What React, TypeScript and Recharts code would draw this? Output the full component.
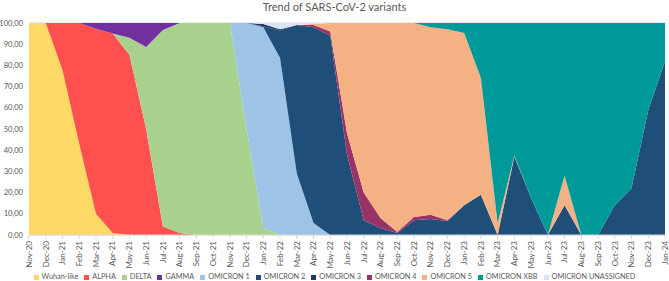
import { AreaChart, Area, XAxis, YAxis, CartesianGrid, Legend } from 'recharts';

const MONTHS = [
  'Nov-20', 'Dec-20', 'Jan-21', 'Feb-21', 'Mar-21', 'Apr-21', 'May-21', 'Jun-21', 'Jul-21', 'Aug-21',
  'Sep-21', 'Oct-21', 'Nov-21', 'Dec-21', 'Jan-22', 'Feb-22', 'Mar-22', 'Apr-22', 'May-22', 'Jun-22',
  'Jul-22', 'Aug-22', 'Sep-22', 'Oct-22', 'Nov-22', 'Dec-22', 'Jan-23', 'Feb-23', 'Mar-23', 'Apr-23',
  'May-23', 'Jun-23', 'Jul-23', 'Aug-23', 'Sep-23', 'Oct-23', 'Nov-23', 'Dec-23', 'Jan-24',
];

// shares in %, one value per month
const WUHAN = [100, 100, 77.8, 43, 10, 1, 0, 0, 0, 0, 0, 0, 0, 0, 0, 0, 0, 0, 0, 0, 0, 0, 0, 0, 0, 0, 0, 0, 0, 0, 0, 0, 0, 0, 0, 0, 0, 0, 0];
const ALPHA = [0, 0, 22.2, 57, 87.3, 94, 85, 50, 4, 1, 0, 0, 0, 0, 0, 0, 0, 0, 0, 0, 0, 0, 0, 0, 0, 0, 0, 0, 0, 0, 0, 0, 0, 0, 0, 0, 0, 0, 0];
const DELTA = [0, 0, 0, 0, 0, 0, 8, 38.7, 92.7, 99, 100, 100, 100, 50, 3.3, 0, 0, 0, 0, 0, 0, 0, 0, 0, 0, 0, 0, 0, 0, 0, 0, 0, 0, 0, 0, 0, 0, 0, 0];
const GAMMA = [0, 0, 0, 0, 2.7, 5, 7, 11.3, 3.3, 0, 0, 0, 0, 0, 0, 0, 0, 0, 0, 0, 0, 0, 0, 0, 0, 0, 0, 0, 0, 0, 0, 0, 0, 0, 0, 0, 0, 0, 0];
const OMICRON1 = [0, 0, 0, 0, 0, 0, 0, 0, 0, 0, 0, 0, 0, 50, 95.2, 83.5, 29, 5.7, 0, 0, 0, 0, 0, 0, 0, 0, 0, 0, 0, 0, 0, 0, 0, 0, 0, 0, 0, 0, 0];
const OMICRON2 = [0, 0, 0, 0, 0, 0, 0, 0, 0, 0, 0, 0, 0, 0, 0.5, 13, 70, 92.3, 94, 38, 7, 3.3, 1, 7, 7.5, 6.6, 14, 19, 0, 37, 17.5, 0, 14, 0, 0, 14, 22, 59, 82];
const OMICRON3 = [0, 0, 0, 0, 0, 0, 0, 0, 0, 0, 0, 0, 0, 0, 1, 0.5, 0, 0, 0, 0, 0, 0, 0, 0, 0, 0, 0, 0, 0, 0, 0, 0, 0, 0, 0, 0, 0, 0, 0];
const OMICRON4 = [0, 0, 0, 0, 0, 0, 0, 0, 0, 0, 0, 0, 0, 0, 0, 0, 0, 1, 2, 10, 13, 4.7, 0.4, 1.5, 2, 0.3, 0, 0, 0, 0, 0, 0, 0, 0, 0, 0, 0, 0, 0];
const OMICRON5 = [0, 0, 0, 0, 0, 0, 0, 0, 0, 0, 0, 0, 0, 0, 0, 0, 0, 0.5, 4, 52, 80, 92, 98.6, 91.5, 88.5, 90.1, 81.3, 55, 5.5, 0.5, 0, 0, 14, 0, 0, 0, 0, 0, 0];
const XBB = [0, 0, 0, 0, 0, 0, 0, 0, 0, 0, 0, 0, 0, 0, 0, 0, 0, 0, 0, 0, 0, 0, 0, 0, 2, 3, 4.7, 26, 94.5, 62.5, 82.5, 100, 72, 100, 100, 86, 78, 41, 18];
const UNASSIGNED = [0, 0, 0, 0, 0, 0, 0, 0, 0, 0, 0, 0, 0, 0, 0.5, 3, 1, 0.5, 0, 0, 0, 0, 0, 0, 0, 0, 0, 0, 0, 0, 0, 0, 0, 0, 0, 0, 0, 0, 0];

const Y_TICKS = [0, 0.1, 0.2, 0.3, 0.4, 0.5, 0.6, 0.7, 0.8, 0.9, 1];

const SERIES = [
  { key: 'wuhan', name: 'Wuhan-like', color: '#FFD966', values: WUHAN },
  { key: 'alpha', name: 'ALPHA', color: '#FF5050', values: ALPHA },
  { key: 'delta', name: 'DELTA', color: '#A9D18E', values: DELTA },
  { key: 'gamma', name: 'GAMMA', color: '#7030A0', values: GAMMA },
  { key: 'om1', name: 'OMICRON 1', color: '#9DC3E6', values: OMICRON1 },
  { key: 'om2', name: 'OMICRON 2', color: '#1F4E79', values: OMICRON2 },
  { key: 'om3', name: 'OMICRON 3', color: '#203864', values: OMICRON3 },
  { key: 'om4', name: 'OMICRON 4', color: '#993366', values: OMICRON4 },
  { key: 'om5', name: 'OMICRON 5', color: '#F4B183', values: OMICRON5 },
  { key: 'xbb', name: 'OMICRON XBB', color: '#009999', values: XBB },
  { key: 'unassigned', name: 'OMICRON UNASSIGNED', color: '#DAE3F3', values: UNASSIGNED },
];

const data = MONTHS.map((month, i) => {
  const row: Record<string, string | number> = { month };
  SERIES.forEach((s) => {
    row[s.key] = s.values[i];
  });
  return row;
});

const FONT = 'Lato, "Open Sans", sans-serif';
const TEXT = '#595959';

const MonthTick = ({ x, y, payload }: any) => (
  <g transform={`translate(${x},${y})`}>
    <text transform="rotate(-90)" textAnchor="end" dy="0.35em" fontSize={8} fill={TEXT} fontFamily={FONT}>
      {payload.value}
    </text>
  </g>
);

const LegendRow = () => (
  <div
    style={{
      display: 'flex',
      flexWrap: 'nowrap',
      justifyContent: 'center',
      gap: 6,
      fontSize: 7.3,
      lineHeight: '10px',
      whiteSpace: 'nowrap',
      color: TEXT,
      fontFamily: FONT,
      paddingTop: 7,
    }}
  >
    {SERIES.map((s) => (
      <div key={s.key} style={{ display: 'flex', alignItems: 'center' }}>
        <span style={{ width: 5, height: 5, background: s.color, marginRight: 3, display: 'inline-block' }} />
        {s.name}
      </div>
    ))}
  </div>
);

export default function App() {
  return (
    <div style={{ position: 'absolute', left: 0, top: 0, width: 669, height: 281, background: '#fff' }}>
      <div
        style={{
          position: 'absolute',
          top: 0,
          left: 0,
          width: 669,
          textAlign: 'center',
          fontSize: 11,
          lineHeight: '13px',
          color: TEXT,
          fontFamily: FONT,
        }}
      >
        Trend of SARS-CoV-2 variants
      </div>
      <AreaChart
        width={669}
        height={281}
        data={data}
        stackOffset="expand"
        margin={{ top: 23, right: 4, left: 0, bottom: 0 }}
      >
        <CartesianGrid stroke="#d9d9d9" vertical={false} />
        <XAxis
          dataKey="month"
          interval={0}
          height={30}
          tick={<MonthTick />}
          tickSize={4}
          tickLine={{ stroke: '#d9d9d9' }}
          axisLine={{ stroke: '#d9d9d9' }}
        />
        <YAxis
          domain={[0, 1]}
          ticks={Y_TICKS}
          width={29}
          axisLine={false}
          tickLine={false}
          tickMargin={0}
          tick={{ fontSize: 7.6, fill: TEXT, fontFamily: FONT }}
          tickFormatter={(v: number) => (v * 100).toFixed(2).replace('.', ',')}
        />
        {SERIES.map((s) => (
          <Area
            key={s.key}
            type="linear"
            dataKey={s.key}
            name={s.name}
            stackId="1"
            stroke="none"
            fill={s.color}
            fillOpacity={1}
            isAnimationActive={false}
          />
        ))}
        <Legend verticalAlign="bottom" height={16} width={669} content={<LegendRow />} />
      </AreaChart>
    </div>
  );
}
